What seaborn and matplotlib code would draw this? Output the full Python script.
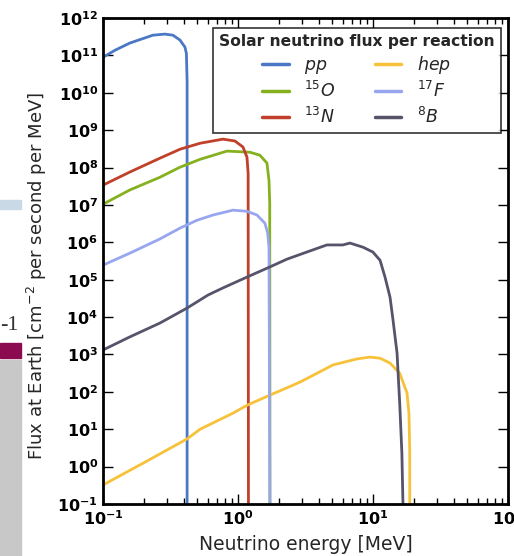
import numpy as np
import pandas as pd
import seaborn as sns
import matplotlib.pyplot as plt
from matplotlib.ticker import LogLocator, FuncFormatter, NullFormatter
from matplotlib.patches import Rectangle

# spectra (energy in MeV, flux per cm2 s MeV)
pp_E = [0.1, 0.123, 0.158, 0.234, 0.288, 0.330, 0.372, 0.405, 0.415, 0.42, 0.42]
pp_F = [10**10.95, 10**11.14, 10**11.33, 10**11.54, 10**11.57, 10**11.54,
        10**11.41, 10**11.22, 10**11.05, 10**10.3, 1e-5]

o15_E = [0.1, 0.158, 0.264, 0.372, 0.524, 0.829, 1.227, 1.455, 1.64, 1.698, 1.72, 1.73]
o15_F = [10**7.02, 10**7.40, 10**7.74, 10**8.01, 10**8.22, 10**8.44, 10**8.41,
         10**8.33, 10**8.12, 10**7.66, 10**7.05, 1e-5]

n13_E = [0.1, 0.158, 0.264, 0.372, 0.524, 0.774, 0.950, 1.089, 1.166, 1.19, 1.199]
n13_F = [10**7.53, 10**7.88, 10**8.25, 10**8.49, 10**8.65, 10**8.76, 10**8.71,
         10**8.55, 10**8.28, 10**7.85, 1e-5]

hep_E = [0.1, 0.2, 0.419, 0.524, 0.918, 1.18, 1.72, 2.88, 5.06, 7.6, 9.5, 11.3,
         13.4, 15.8, 17.9, 18.5, 18.75, 18.8]
hep_F = [10**-0.49, 10**0.1, 10**0.74, 10**1.0, 10**1.43, 10**1.65, 10**1.91,
         10**2.26, 10**2.72, 10**2.88, 10**2.93, 10**2.90, 10**2.77, 10**2.50,
         10**1.97, 10**1.43, 10**0.44, 1e-5]

f17_E = [0.1, 0.158, 0.264, 0.372, 0.497, 0.653, 0.918, 1.166, 1.384, 1.585,
         1.66, 1.698, 1.74]
f17_F = [10**5.39, 10**5.71, 10**6.09, 10**6.38, 10**6.59, 10**6.73, 10**6.86,
         10**6.83, 10**6.73, 10**6.51, 10**6.25, 10**5.87, 1e-5]

b8_E = [0.1, 0.158, 0.264, 0.419, 0.6, 0.774, 1.166, 1.72, 2.31, 3.24, 4.56,
        5.99, 6.76, 8.44, 10.0, 11.3, 12.3, 13.4, 14.1, 15.1, 15.8, 16.4, 16.7, 16.9]
b8_F = [10**3.12, 10**3.47, 10**3.84, 10**4.24, 10**4.59, 10**4.78, 10**5.07,
        10**5.34, 10**5.55, 10**5.74, 10**5.93, 10**5.93, 10**5.98, 10**5.87,
        10**5.74, 10**5.52, 10**5.07, 10**4.53, 10**3.92, 10**3.04, 10**1.70,
        10**0.36, 10**-0.97, 1e-5]

labels = [r'$pp$', r'$^{15}O$', r'$^{13}N$', r'$hep$', r'$^{17}F$', r'$^{8}B$']
colors = ['#4a78c4', '#86b11f', '#c0402a', '#f7c23a', '#98a6ef', '#55546a']

series = [(pp_E, pp_F), (o15_E, o15_F), (n13_E, n13_F),
          (hep_E, hep_F), (f17_E, f17_F), (b8_E, b8_F)]
frames = []
for lab, (E, F) in zip(labels, series):
    frames.append(pd.DataFrame({'E': E, 'F': F, 'reaction': lab}))
df = pd.concat(frames, ignore_index=True)

sns.set_style("ticks")
plt.rcParams['font.family'] = ['DejaVu Sans']
plt.rcParams['mathtext.fontset'] = 'dejavusans'

fig = plt.figure(figsize=(5.14, 5.56), dpi=100)
ax = fig.add_axes([0.2004, 0.0935, 0.7876, 0.8741])

sns.lineplot(data=df, x='E', y='F', hue='reaction', hue_order=labels,
             palette=colors, sort=False, estimator=None, linewidth=2, ax=ax)

ax.set_xscale('log')
ax.set_yscale('log')
ax.set_xlim(0.1, 100)
ax.set_ylim(0.1, 1e12)

ax.yaxis.set_major_locator(LogLocator(base=10, numticks=20))
ax.yaxis.set_minor_locator(LogLocator(base=10, subs=[], numticks=20))
ax.xaxis.set_major_locator(LogLocator(base=10, numticks=10))
ax.xaxis.set_minor_locator(LogLocator(base=10, subs=np.arange(2, 10), numticks=10))
fmt = FuncFormatter(lambda v, p: r'$\mathbf{10^{%d}}$' % int(round(np.log10(v))))
ax.xaxis.set_major_formatter(fmt)
ax.yaxis.set_major_formatter(fmt)
ax.xaxis.set_minor_formatter(NullFormatter())

ax.tick_params(which='both', direction='in', top=True, right=True, labelsize=11.5,
               colors='black')
ax.tick_params(which='major', length=7, width=1)
ax.tick_params(which='minor', length=4, width=1)
for s in ax.spines.values():
    s.set_linewidth(2)
    s.set_color('black')

ax.set_xlabel('Neutrino energy [MeV]', fontsize=13.5, labelpad=5)
ax.set_ylabel(r'Flux at Earth [cm$^{-2}$ per second per MeV]', fontsize=13)
ax.yaxis.set_label_coords(-0.133, 0.47)

leg = ax.legend(ncol=2, loc='upper right', bbox_to_anchor=(0.982, 0.98),
                borderaxespad=0,
                title='Solar neutrino flux per reaction', fontsize=12.5,
                title_fontproperties={'weight': 'bold', 'size': 11.2},
                fancybox=False, frameon=True, edgecolor='black',
                handlelength=1.5, handletextpad=0.9, columnspacing=2.3,
                borderpad=0.35, labelspacing=0.3)
leg.get_frame().set_linewidth(1.2)
for h in leg.get_lines():
    h.set_linewidth(2.5)

# fragment of a neighbouring picture on the left edge of the screenshot
fig.patches.append(Rectangle((0, 1 - 209 / 556), 21 / 514, 9 / 556,
                             transform=fig.transFigure, color='#c9d9e6', zorder=0))
fig.patches.append(Rectangle((0, 1 - 358 / 556), 21 / 514, 15 / 556,
                             transform=fig.transFigure, color='#8b0a50', zorder=0))
fig.patches.append(Rectangle((0, 0), 21 / 514, 1 - 360 / 556,
                             transform=fig.transFigure, color='#c8c8c8', zorder=0))
fig.text(0.0, 1 - 326 / 556, '-1', fontsize=16, family='Liberation Serif',
         color='#333333', va='center', ha='left')

fig.savefig('out.png', dpi=100)
